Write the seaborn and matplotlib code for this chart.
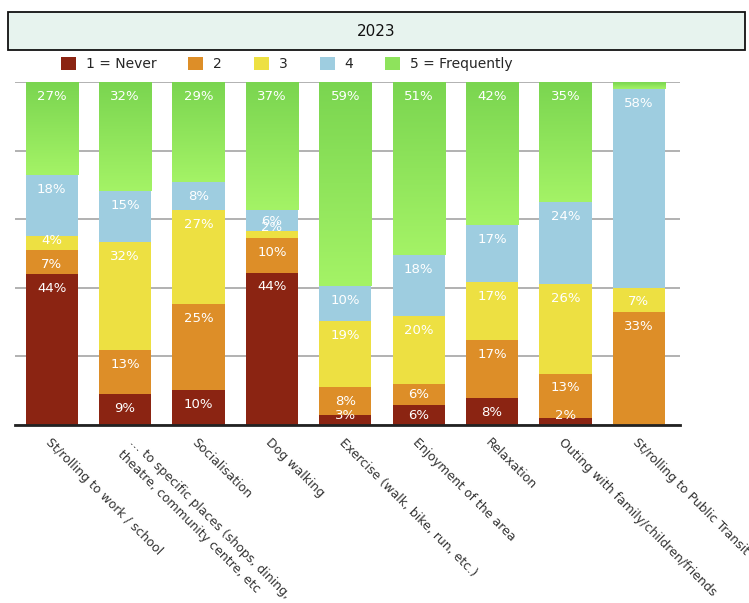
import numpy as np
import pandas as pd
import matplotlib
matplotlib.use("Agg")
import matplotlib.pyplot as plt
import matplotlib.transforms as mtransforms
import seaborn as sns
from matplotlib.patches import Patch, Rectangle
from matplotlib.colors import LinearSegmentedColormap

categories = [
    "St/rolling to work / school",
    "… to specific places (shops, dining,\ntheatre, community centre, etc",
    "Socialisation",
    "Dog walking",
    "Exercise (walk, bike, run, etc.)",
    "Enjoyment of the area",
    "Relaxation",
    "Outing with family/children/friends",
    "St/rolling to Public Transit",
]
series = ["1 = Never", "2", "3", "4", "5 = Frequently"]
never = [44, 9, 10, 44, 3, 6, 8, 2, 0]
two = [7, 13, 25, 10, 8, 6, 17, 13, 33]
three = [4, 32, 27, 2, 19, 20, 17, 26, 7]
four = [18, 15, 8, 6, 10, 18, 17, 24, 58]
frequently = [27, 32, 29, 37, 59, 51, 42, 35, 2]
title = "2023"

colors = ["#8B2412", "#DD8E28", "#EDE042", "#9ECDE0", "#8EE35C"]

values = np.array([never, two, three, four, frequently], dtype=float)
totals = values.sum(axis=0)
shares = values / totals * 100.0

rows = []
for s_i, s in enumerate(series):
    for c_i, c in enumerate(categories):
        rows.append({"category": c, "series": s, "raw": values[s_i, c_i],
                     "share": shares[s_i, c_i]})
df = pd.DataFrame(rows)

sns.set_theme(style="white")
plt.rcParams["font.family"] = ["DejaVu Sans"]

fig = plt.figure(figsize=(7.49, 6.03), dpi=100)
ax = fig.add_axes([15 / 749, 1 - 425 / 603, 665 / 749, 343 / 603])

bottom = np.zeros(len(categories))
green_patches = []
for s_i, s in enumerate(series):
    sub = df[df["series"] == s].set_index("category").loc[categories]
    n_before = len(ax.patches)
    sns.barplot(data=sub.reset_index(), x="category", y="share", order=categories,
                color=colors[s_i], bottom=bottom, width=0.71, ax=ax,
                edgecolor="none", linewidth=0, saturation=1, zorder=3)
    if s_i == len(series) - 1:
        green_patches = ax.patches[n_before:]
    tops = bottom + sub["share"].values
    for c_i in range(len(categories)):
        raw = sub["raw"].values[c_i]
        if raw <= 0:
            continue
        yc = max(tops[c_i] - 4.2, bottom[c_i] + 2.9)
        ax.text(c_i, yc, f"{int(raw)}%", ha="center", va="center",
                color="white", fontsize=9.5, zorder=6, clip_on=False)
    bottom = tops

# gradient on the "frequently" segments
grad = np.linspace(0, 1, 256).reshape(-1, 1)
gcmap = LinearSegmentedColormap.from_list("g", ["#7AD550", "#A4F366"])
for p in green_patches:
    x0, y0 = p.get_x(), p.get_y()
    w, h = p.get_width(), p.get_height()
    im = ax.imshow(grad, cmap=gcmap, aspect="auto", origin="upper",
                   extent=[x0, x0 + w, y0, y0 + h], zorder=3.5)
    im.set_clip_path(p)

ax.set_xlim(-0.5, 8.56)
ax.set_ylim(0, 100)
ax.set_yticks([0, 20, 40, 60, 80, 100])
ax.set_yticklabels([])
ax.yaxis.grid(True, color="#ababab", linewidth=1.3, zorder=0)
ax.xaxis.grid(False)
for sp in ["left", "right", "top"]:
    ax.spines[sp].set_visible(False)
ax.spines["bottom"].set_color("#222222")
ax.spines["bottom"].set_linewidth(2)
ax.spines["bottom"].set_zorder(7)
ax.tick_params(axis="y", length=0)
ax.tick_params(axis="x", length=0, pad=8)
ax.set_xlabel("")
ax.set_ylabel("")
ax.set_xticks(range(len(categories)))
ax.set_xticklabels(categories, rotation=-45, ha="left", va="top",
                   rotation_mode="anchor", fontsize=9, color="#333333",
                   linespacing=1.35)
lbl = ax.get_xticklabels()[1]
lbl.set_transform(lbl.get_transform() +
                  mtransforms.ScaledTranslation(0.11, 0.0, fig.dpi_scale_trans))

# Title box
fig.patches.append(Rectangle((8 / 749, 1 - 50 / 603), 737 / 749, 38 / 603,
                             transform=fig.transFigure, facecolor="#E7F3EE",
                             edgecolor="#111111", linewidth=1.3))
fig.text(376 / 749, 1 - 31 / 603, title, ha="center", va="center",
         fontsize=11, color="#111111")

handles = [Patch(facecolor=c, edgecolor="none") for c in colors]
fig.legend(handles, series, loc="center left",
           bbox_to_anchor=(55 / 749, 1 - 64 / 603), ncol=5, frameon=False,
           fontsize=10, handlelength=1.1, handleheight=1.1, columnspacing=2.3,
           handletextpad=0.7, borderaxespad=0)

fig.savefig("out.png", dpi=100)
